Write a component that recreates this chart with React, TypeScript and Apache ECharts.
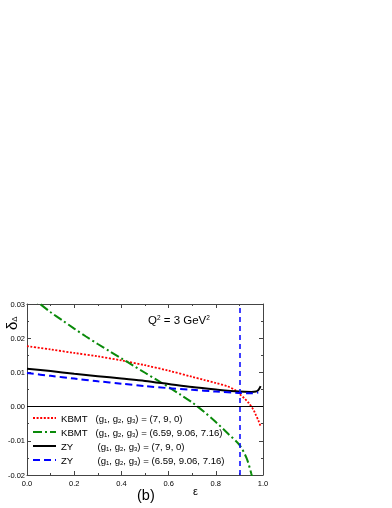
import React, { useEffect, useRef } from "react";
import * as echarts from "echarts";

// ε values and δΔ values
const kbmt1Eps = [0, 0.1, 0.2, 0.3, 0.4, 0.5, 0.6, 0.7, 0.75, 0.8, 0.85, 0.88, 0.9, 0.92, 0.94, 0.96, 0.97, 0.98, 0.99];
const kbmt1Val = [0.0177, 0.0167, 0.0157, 0.0147, 0.0135, 0.0121, 0.0105, 0.0087, 0.0078, 0.0069, 0.0059, 0.0049, 0.0037, 0.0025, 0.001, -0.001, -0.0025, -0.004, -0.0058];

const kbmt2Eps = [0, 0.05, 0.1, 0.15, 0.2, 0.25, 0.3, 0.35, 0.4, 0.45, 0.5, 0.55, 0.6, 0.65, 0.7, 0.75, 0.8, 0.85, 0.9, 0.93, 0.95, 0.96];
const kbmt2Val = [0.0328, 0.0303, 0.0276, 0.0252, 0.0228, 0.0205, 0.0183, 0.0162, 0.0141, 0.012, 0.0099, 0.0078, 0.0057, 0.0035, 0.0012, -0.0015, -0.0045, -0.0078, -0.0112, -0.015, -0.0195, -0.0225];

const zy1Eps = [0, 0.1, 0.2, 0.3, 0.4, 0.5, 0.6, 0.7, 0.8, 0.9, 0.95, 0.97, 0.98, 0.99];
const zy1Val = [0.0111, 0.0104, 0.0096, 0.0089, 0.0082, 0.0075, 0.0066, 0.0057, 0.005, 0.0044, 0.0043, 0.0044, 0.0048, 0.006];

const zy2Eps = [0, 0.1, 0.2, 0.3, 0.4, 0.5, 0.6, 0.7, 0.8, 0.9, 0.95, 0.98];
const zy2Val = [0.0098, 0.009, 0.0082, 0.0074, 0.0067, 0.006, 0.0054, 0.0049, 0.0044, 0.004, 0.0039, 0.0041];

const verticalEps = 0.9;
const zeroLevel = 0;

const xTicks = { min: 0, max: 1, interval: 0.2 };
const yTicks = { min: -0.02, max: 0.03, interval: 0.01 };

const legendNames = ["k1", "k2", "z1", "z2"];
const legendModels = ["KBMT", "KBMT", "ZY", "ZY"];
const legendParams = ["(7, 9, 0)", "(6.59, 9.06, 7.16)", "(7, 9, 0)", "(6.59, 9.06, 7.16)"];

const FONT = "'Liberation Sans', Arial, sans-serif";
const AXIS_COLOR = "#444";

const zip = (xs: number[], ys: number[]) => xs.map((x, i) => [x, ys[i]]);

export default function App() {
  const ref = useRef<HTMLDivElement>(null);
  useEffect(() => {
    if (!ref.current) return;
    const chart = echarts.init(ref.current, undefined, { renderer: "svg" });
    const tickCommon = {
      axisLine: { show: true, onZero: false, lineStyle: { color: AXIS_COLOR, width: 1 } },
      axisTick: { show: true, inside: true, length: 4, lineStyle: { color: AXIS_COLOR } },
      minorTick: { show: true, splitNumber: 2, length: 2, lineStyle: { color: AXIS_COLOR } },
      splitLine: { show: false },
    };
    const legendLabel = (name: string) => {
      const i = legendNames.indexOf(name);
      const nm = legendModels[i];
      const style = nm === "ZY" ? "m" : "n";
      return `{${style}|${nm}}{t|(g}{s|1}{t|, g}{s|2}{t|, g}{s|3}{t|) = ${legendParams[i]}}`;
    };
    chart.setOption({
      animation: false,
      grid: { left: 27, top: 304, right: 129, bottom: 33, containLabel: false },
      xAxis: [
        {
          type: "value",
          position: "bottom",
          ...xTicks,
          ...tickCommon,
          axisLabel: { fontSize: 7.5, fontFamily: FONT, color: "#000", margin: 4, formatter: (v: number) => v.toFixed(1) },
        },
        {
          type: "value",
          position: "top",
          ...xTicks,
          ...tickCommon,
          axisLabel: { show: false },
        },
      ],
      yAxis: [
        {
          type: "value",
          position: "left",
          ...yTicks,
          ...tickCommon,
          axisLabel: { fontSize: 7.5, fontFamily: FONT, color: "#000", margin: 2, formatter: (v: number) => v.toFixed(2) },
        },
        {
          type: "value",
          position: "right",
          ...yTicks,
          ...tickCommon,
          axisLabel: { show: false },
        },
      ],
      legend: {
        orient: "vertical",
        left: 32,
        top: 413,
        padding: 0,
        itemWidth: 23,
        itemHeight: 10,
        itemGap: 3,
        data: legendNames,
        formatter: legendLabel,
        itemStyle: { opacity: 0 },
        textStyle: {
          fontSize: 9.6,
          fontFamily: FONT,
          color: "#000",
          rich: {
            n: { width: 34.5, fontSize: 9.6, fontFamily: FONT, lineHeight: 12 },
            m: { width: 36.5, fontSize: 9.6, fontFamily: FONT, lineHeight: 12 },
            t: { fontSize: 9.6, fontFamily: FONT, lineHeight: 12 },
            s: { fontSize: 6, fontFamily: FONT, verticalAlign: "bottom", lineHeight: 6 },
          },
        },
      },
      series: [
        {
          name: "k1",
          type: "line",
          data: zip(kbmt1Eps, kbmt1Val),
          showSymbol: false,
          symbol: "none",
          smooth: 0.3,
          lineStyle: { color: "#ff0000", width: 1.8, type: [2, 1.6] },
          itemStyle: { color: "#ff0000" },
          z: 3,
        },
        {
          name: "k2",
          type: "line",
          data: zip(kbmt2Eps, kbmt2Val),
          showSymbol: false,
          symbol: "none",
          smooth: 0.3,
          lineStyle: { color: "#0a8a0a", width: 2, type: [9, 3, 2, 3] },
          itemStyle: { color: "#0a8a0a" },
          z: 3,
        },
        {
          name: "z1",
          type: "line",
          data: zip(zy1Eps, zy1Val),
          showSymbol: false,
          symbol: "none",
          smooth: 0.3,
          lineStyle: { color: "#000000", width: 2 },
          itemStyle: { color: "#000000" },
          z: 4,
          markLine: {
            silent: true,
            symbol: "none",
            label: { show: false },
            lineStyle: { color: "#000", width: 1.2, type: "solid" },
            data: [{ yAxis: zeroLevel }],
          },
        },
        {
          name: "z2",
          type: "line",
          data: zip(zy2Eps, zy2Val),
          showSymbol: false,
          symbol: "none",
          smooth: 0.3,
          lineStyle: { color: "#0000ff", width: 2, type: [7, 4] },
          itemStyle: { color: "#0000ff" },
          z: 5,
          markLine: {
            silent: true,
            symbol: "none",
            label: { show: false },
            lineStyle: { color: "#1010ff", width: 1.6, type: [5, 4] },
            data: [{ xAxis: verticalEps }],
          },
        },
      ],
      graphic: [
        {
          type: "text",
          x: 148,
          y: 320,
          style: {
            text: "Q{sup|2} = 3 GeV{sup|2}",
            font: `11.5px ${FONT}`,
            fill: "#000",
            verticalAlign: "middle",
            rich: { sup: { fontSize: 6.5, fontFamily: FONT, verticalAlign: "top", lineHeight: 7 } },
          },
        },
        {
          type: "text",
          x: 137,
          y: 495,
          style: { text: "(b)", font: `14.5px ${FONT}`, fill: "#000", verticalAlign: "middle" },
        },
        {
          type: "text",
          x: 193,
          y: 491,
          style: { text: "ε", font: `11px ${FONT}`, fill: "#000", verticalAlign: "middle" },
        },
        {
          type: "text",
          x: 11,
          y: 330,
          rotation: Math.PI / 2,
          style: {
            text: "δ{sub|Δ}",
            font: `15px ${FONT}`,
            fill: "#000",
            verticalAlign: "middle",
            rich: { sub: { fontSize: 8, fontFamily: FONT, verticalAlign: "bottom" } },
          },
        },
      ],
    });
    return () => chart.dispose();
  }, []);
  return <div ref={ref} style={{ position: "fixed", left: 0, top: 0, width: 392, height: 508 }} />;
}
